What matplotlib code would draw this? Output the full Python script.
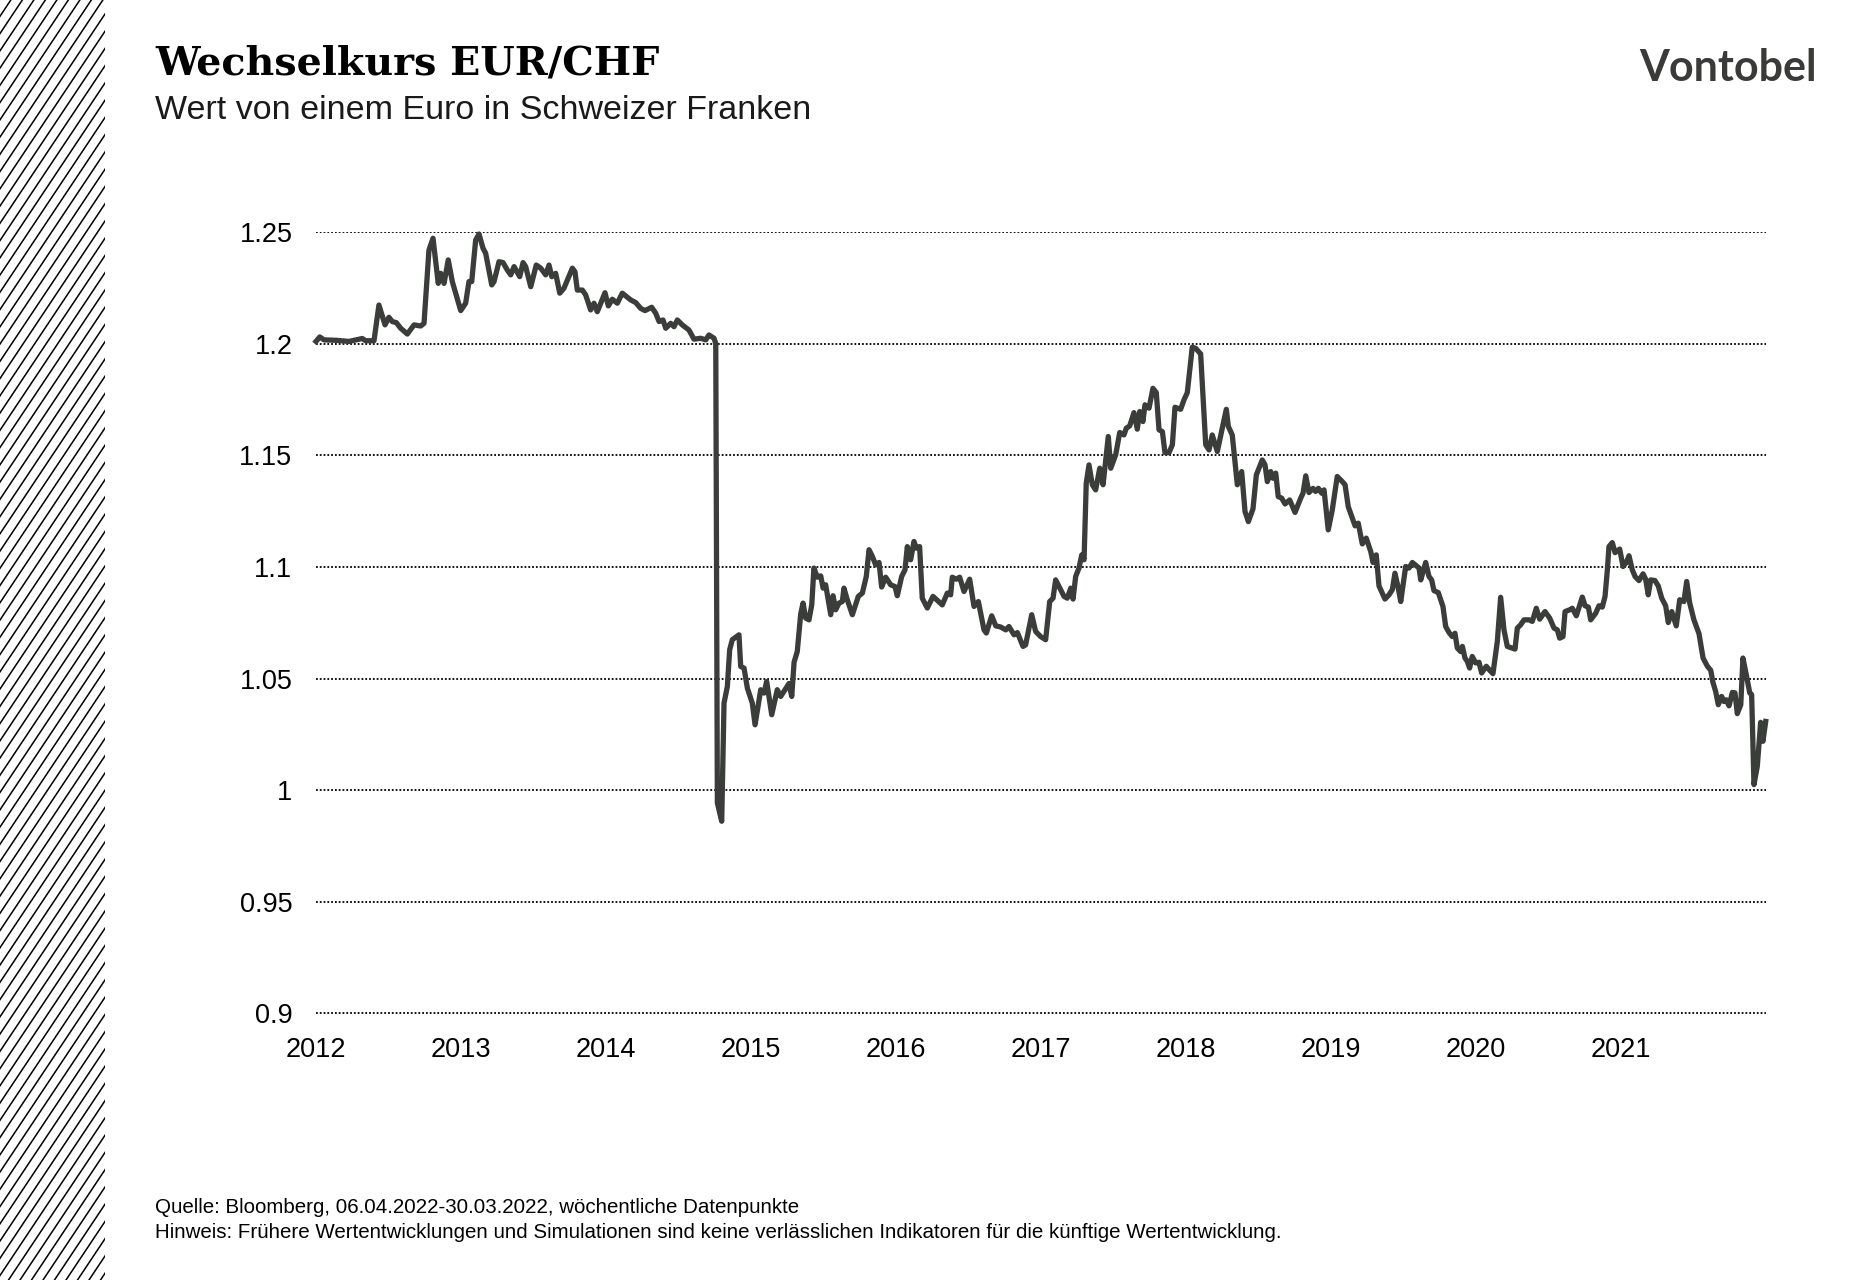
import matplotlib
matplotlib.use("Agg")
import matplotlib.pyplot as plt
import numpy as np

# weekly EUR/CHF rate (x = position in years from the 2012 label)
years = [2012.000, 2012.026, 2012.055, 2012.136, 2012.228, 2012.319, 2012.343, 2012.400,
         2012.434, 2012.476, 2012.503, 2012.526, 2012.554, 2012.584, 2012.630, 2012.676,
         2012.722, 2012.745, 2012.779, 2012.807, 2012.843, 2012.860, 2012.883, 2012.912,
         2012.940, 2012.998, 2013.032, 2013.055, 2013.074, 2013.101, 2013.124, 2013.152,
         2013.170, 2013.212, 2013.228, 2013.262, 2013.290, 2013.319, 2013.343, 2013.366,
         2013.405, 2013.428, 2013.446, 2013.481, 2013.519, 2013.550, 2013.584, 2013.607,
         2013.626, 2013.653, 2013.681, 2013.710, 2013.768, 2013.786, 2013.802, 2013.837,
         2013.860, 2013.894, 2013.917, 2013.940, 2013.993, 2014.016, 2014.043, 2014.078,
         2014.112, 2014.170, 2014.205, 2014.239, 2014.269, 2014.315, 2014.343, 2014.366,
         2014.393, 2014.412, 2014.446, 2014.469, 2014.492, 2014.526, 2014.572, 2014.607,
         2014.653, 2014.688, 2014.710, 2014.745, 2014.757, 2014.768, 2014.798, 2014.814,
         2014.837, 2014.853, 2014.871, 2014.917, 2014.929, 2014.952, 2014.975, 2015.009,
         2015.028, 2015.067, 2015.090, 2015.108, 2015.143, 2015.181, 2015.205, 2015.262,
         2015.281, 2015.297, 2015.319, 2015.343, 2015.359, 2015.377, 2015.400, 2015.419,
         2015.434, 2015.457, 2015.481, 2015.497, 2015.515, 2015.550, 2015.566, 2015.584,
         2015.607, 2015.630, 2015.641, 2015.664, 2015.699, 2015.740, 2015.768, 2015.795,
         2015.814, 2015.837, 2015.860, 2015.883, 2015.901, 2015.929, 2015.963, 2015.993,
         2016.009, 2016.039, 2016.062, 2016.078, 2016.101, 2016.124, 2016.140, 2016.163,
         2016.181, 2016.216, 2016.255, 2016.319, 2016.354, 2016.377, 2016.388, 2016.416,
         2016.439, 2016.469, 2016.508, 2016.538, 2016.568, 2016.607, 2016.623, 2016.660,
         2016.688, 2016.722, 2016.757, 2016.779, 2016.814, 2016.837, 2016.876, 2016.894,
         2016.936, 2016.963, 2016.998, 2017.032, 2017.060, 2017.083, 2017.101, 2017.159,
         2017.181, 2017.205, 2017.221, 2017.239, 2017.262, 2017.281, 2017.297, 2017.312,
         2017.331, 2017.354, 2017.377, 2017.405, 2017.428, 2017.464, 2017.481, 2017.515,
         2017.543, 2017.572, 2017.588, 2017.612, 2017.641, 2017.664, 2017.681, 2017.703,
         2017.717, 2017.745, 2017.772, 2017.795, 2017.814, 2017.837, 2017.855, 2017.883,
         2017.906, 2017.924, 2017.963, 2017.986, 2018.009, 2018.043, 2018.067, 2018.101,
         2018.136, 2018.159, 2018.181, 2018.216, 2018.250, 2018.278, 2018.292, 2018.319,
         2018.354, 2018.384, 2018.407, 2018.430, 2018.462, 2018.485, 2018.526, 2018.545,
         2018.561, 2018.584, 2018.600, 2018.619, 2018.636, 2018.660, 2018.683, 2018.715,
         2018.752, 2018.791, 2018.807, 2018.826, 2018.848, 2018.876, 2018.894, 2018.913,
         2018.936, 2018.952, 2018.981, 2019.009, 2019.043, 2019.078, 2019.097, 2019.119,
         2019.166, 2019.188, 2019.216, 2019.243, 2019.274, 2019.290, 2019.312, 2019.331,
         2019.372, 2019.400, 2019.423, 2019.441, 2019.464, 2019.481, 2019.515, 2019.538,
         2019.561, 2019.607, 2019.619, 2019.653, 2019.676, 2019.694, 2019.710, 2019.740,
         2019.772, 2019.791, 2019.814, 2019.837, 2019.855, 2019.871, 2019.894, 2019.906,
         2019.924, 2019.940, 2019.956, 2019.974, 2019.998, 2020.021, 2020.039, 2020.071,
         2020.095, 2020.117, 2020.147, 2020.170, 2020.193, 2020.216, 2020.269, 2020.285,
         2020.308, 2020.331, 2020.366, 2020.388, 2020.416, 2020.439, 2020.476, 2020.508,
         2020.538, 2020.561, 2020.577, 2020.600, 2020.614, 2020.646, 2020.664, 2020.692,
         2020.733, 2020.752, 2020.775, 2020.791, 2020.826, 2020.848, 2020.871, 2020.890,
         2020.906, 2020.917, 2020.940, 2020.959, 2020.991, 2021.014, 2021.037, 2021.055,
         2021.078, 2021.097, 2021.124, 2021.152, 2021.170, 2021.188, 2021.205, 2021.234,
         2021.257, 2021.281, 2021.308, 2021.326, 2021.350, 2021.381, 2021.405, 2021.434,
         2021.453, 2021.474, 2021.503, 2021.538, 2021.566, 2021.596, 2021.619, 2021.634,
         2021.653, 2021.671, 2021.694, 2021.710, 2021.726, 2021.745, 2021.768, 2021.786,
         2021.802, 2021.826, 2021.841, 2021.864, 2021.888, 2021.901, 2021.917, 2021.940,
         2021.963, 2021.979, 2021.998]
chf = [1.2010, 1.2030, 1.2017, 1.2015, 1.2010, 1.2023, 1.2013, 1.2013,
       1.2173, 1.2084, 1.2118, 1.2099, 1.2094, 1.2069, 1.2043, 1.2084,
       1.2079, 1.2091, 1.2419, 1.2472, 1.2270, 1.2315, 1.2270, 1.2375,
       1.2278, 1.2148, 1.2181, 1.2278, 1.2278, 1.2464, 1.2491, 1.2427,
       1.2405, 1.2263, 1.2278, 1.2367, 1.2363, 1.2330, 1.2308, 1.2345,
       1.2300, 1.2363, 1.2345, 1.2255, 1.2352, 1.2338, 1.2308, 1.2352,
       1.2300, 1.2315, 1.2226, 1.2248, 1.2338, 1.2322, 1.2240, 1.2240,
       1.2218, 1.2151, 1.2181, 1.2143, 1.2228, 1.2169, 1.2199, 1.2181,
       1.2226, 1.2196, 1.2184, 1.2158, 1.2148, 1.2163, 1.2136, 1.2099,
       1.2106, 1.2069, 1.2091, 1.2076, 1.2106, 1.2084, 1.2061, 1.2020,
       1.2024, 1.2017, 1.2039, 1.2024, 1.2000, 0.9943, 0.9861, 1.0390,
       1.0465, 1.0629, 1.0674, 1.0696, 1.0554, 1.0547, 1.0457, 1.0390,
       1.0293, 1.0450, 1.0435, 1.0487, 1.0338, 1.0450, 1.0420, 1.0478,
       1.0420, 1.0573, 1.0621, 1.0790, 1.0838, 1.0771, 1.0763, 1.0830,
       1.0995, 1.0954, 1.0960, 1.0905, 1.0920, 1.0786, 1.0871, 1.0808,
       1.0838, 1.0845, 1.0905, 1.0853, 1.0786, 1.0868, 1.0883, 1.0957,
       1.1077, 1.1047, 1.1009, 1.1020, 1.0910, 1.0954, 1.0920, 1.0912,
       1.0871, 1.0957, 1.0987, 1.1091, 1.1032, 1.1114, 1.1084, 1.1091,
       1.0860, 1.0816, 1.0868, 1.0830, 1.0883, 1.0875, 1.0954, 1.0945,
       1.0954, 1.0890, 1.0945, 1.0823, 1.0845, 1.0718, 1.0704, 1.0781,
       1.0736, 1.0731, 1.0718, 1.0733, 1.0696, 1.0706, 1.0644, 1.0651,
       1.0786, 1.0711, 1.0688, 1.0674, 1.0845, 1.0860, 1.0942, 1.0868,
       1.0860, 1.0905, 1.0856, 1.0957, 1.0995, 1.1054, 1.1032, 1.1375,
       1.1457, 1.1368, 1.1345, 1.1442, 1.1368, 1.1584, 1.1442, 1.1502,
       1.1602, 1.1591, 1.1621, 1.1632, 1.1691, 1.1617, 1.1696, 1.1651,
       1.1726, 1.1711, 1.1800, 1.1781, 1.1614, 1.1606, 1.1512, 1.1512,
       1.1547, 1.1715, 1.1706, 1.1748, 1.1781, 1.1984, 1.1979, 1.1954,
       1.1547, 1.1524, 1.1591, 1.1517, 1.1621, 1.1706, 1.1629, 1.1591,
       1.1368, 1.1427, 1.1248, 1.1203, 1.1260, 1.1412, 1.1479, 1.1457,
       1.1382, 1.1427, 1.1397, 1.1420, 1.1315, 1.1308, 1.1282, 1.1300,
       1.1244, 1.1308, 1.1330, 1.1408, 1.1333, 1.1352, 1.1338, 1.1352,
       1.1330, 1.1345, 1.1166, 1.1256, 1.1405, 1.1382, 1.1368, 1.1270,
       1.1184, 1.1196, 1.1103, 1.1129, 1.1069, 1.1020, 1.1054, 1.0915,
       1.0856, 1.0875, 1.0898, 1.0972, 1.0905, 1.0845, 1.1002, 1.0995,
       1.1020, 1.0995, 1.0942, 1.1020, 1.0957, 1.0942, 1.0894, 1.0885,
       1.0823, 1.0733, 1.0706, 1.0688, 1.0703, 1.0637, 1.0621, 1.0644,
       1.0592, 1.0577, 1.0547, 1.0599, 1.0570, 1.0573, 1.0525, 1.0555,
       1.0537, 1.0522, 1.0666, 1.0864, 1.0718, 1.0644, 1.0632, 1.0726,
       1.0741, 1.0763, 1.0763, 1.0756, 1.0815, 1.0766, 1.0800, 1.0771,
       1.0726, 1.0718, 1.0681, 1.0688, 1.0800, 1.0808, 1.0815, 1.0781,
       1.0865, 1.0826, 1.0820, 1.0763, 1.0793, 1.0826, 1.0820, 1.0868,
       1.0987, 1.1091, 1.1109, 1.1064, 1.1080, 1.1002, 1.1020, 1.1050,
       1.0987, 1.0957, 1.0939, 1.0969, 1.0945, 1.0875, 1.0942, 1.0939,
       1.0915, 1.0860, 1.0826, 1.0751, 1.0800, 1.0736, 1.0853, 1.0845,
       1.0935, 1.0838, 1.0763, 1.0701, 1.0592, 1.0555, 1.0537, 1.0483,
       1.0442, 1.0383, 1.0420, 1.0397, 1.0405, 1.0378, 1.0438, 1.0436,
       1.0343, 1.0383, 1.0592, 1.0517, 1.0436, 1.0428, 1.0025, 1.0107,
       1.0304, 1.0219, 1.0308]

year_ticks = [2012, 2013, 2014, 2015, 2016, 2017, 2018, 2019, 2020, 2021]
y_ticks = [0.9, 0.95, 1.0, 1.05, 1.1, 1.15, 1.2, 1.25]
y_labels = ['0.9', '0.95', '1', '1.05', '1.1', '1.15', '1.2', '1.25']

W, H = 1871, 1280
fig = plt.figure(figsize=(W / 100, H / 100), dpi=100)
fig.patch.set_facecolor('white')

line_col = '#3b3d3b'
sans = 'Liberation Sans'

# main chart
ax = fig.add_axes([316 / W, 1 - 1013.5 / H, 1450 / W, (1013.5 - 232) / H])
ax.plot(years, chf, color=line_col, lw=3.8, solid_joinstyle='round', clip_on=False)
ax.set_xlim(2012, 2022)
ax.set_ylim(0.9, 1.25)
ax.set_yticks(y_ticks)
ax.set_yticklabels(y_labels)
ax.set_xticks(year_ticks)
ax.set_xticklabels([str(y) for y in year_ticks])
ax.tick_params(length=0, labelsize=19.5, colors='black')
ax.tick_params(axis='y', pad=17)
ax.tick_params(axis='x', pad=17)
for lab in ax.get_xticklabels() + ax.get_yticklabels():
    lab.set_fontfamily(sans)
for s in ax.spines.values():
    s.set_visible(False)
ax.grid(axis='y', color='black', lw=1.3, linestyle=(0, (1, 1.1)))
ax.set_axisbelow(True)

# hatched stripe on the left
hx = fig.add_axes([0, 0, 105 / W, 1])
hx.set_xlim(0, 105)
hx.set_ylim(0, H)
hx.axis('off')
slope = 1.5
for x0 in np.arange(-900, 120, 11.5):
    hx.plot([x0, x0 + H / slope], [0, H], color='black', lw=1.1)

# texts
fig.text(155 / W, 1 - 74 / H, 'Wechselkurs EUR/CHF', family='DejaVu Serif',
         weight='bold', fontsize=28.5, color='black', va='baseline')
fig.text(155 / W, 1 - 119 / H, 'Wert von einem Euro in Schweizer Franken',
         family=sans, fontsize=24.5, color='#1a1a1a', va='baseline')
fig.text(1817 / W, 1 - 81 / H, 'Vontobel', family='Lato', weight='bold',
         fontsize=31, color='#3a3b39', ha='right', va='baseline')
fig.text(155 / W, 1 - 1213 / H,
         'Quelle: Bloomberg, 06.04.2022-30.03.2022, wöchentliche Datenpunkte',
         family=sans, fontsize=14.8, color='black', va='baseline')
fig.text(155 / W, 1 - 1238 / H,
         'Hinweis: Frühere Wertentwicklungen und Simulationen sind keine '
         'verlässlichen Indikatoren für die künftige Wertentwicklung.',
         family=sans, fontsize=14.8, color='black', va='baseline')

fig.savefig('out.png', dpi=100, facecolor='white')
